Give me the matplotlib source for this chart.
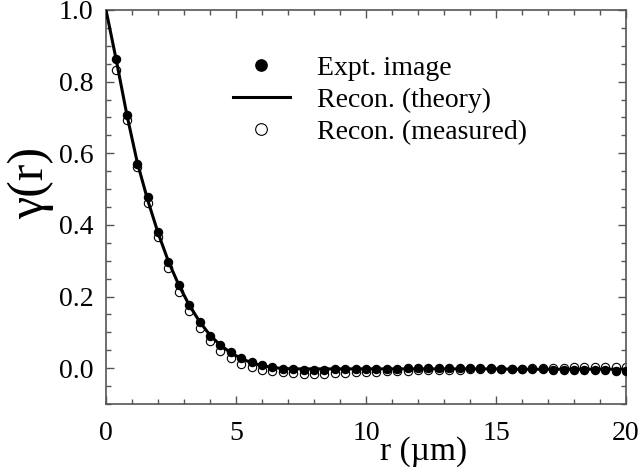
import numpy as np
import matplotlib
matplotlib.use('Agg')
import matplotlib.pyplot as plt
from matplotlib.ticker import MultipleLocator, FormatStrFormatter

# sample radii (um) for the two point series
r_pts = [0.4 * k for k in range(1, 51)]

# experimental image autocorrelation
gamma_expt = [0.862, 0.707, 0.570, 0.477, 0.379, 0.297, 0.231, 0.176, 0.129, 0.091,
              0.064, 0.044, 0.028, 0.017, 0.008, 0.002, -0.002, -0.003, -0.004, -0.004,
              -0.004, -0.003, -0.003, -0.003, -0.002, -0.002, -0.001, -0.001, 0.000, 0.000,
              0.001, 0.001, 0.001, 0.001, 0.001, 0.000, 0.000, -0.001, -0.001, -0.002,
              -0.002, -0.003, -0.004, -0.004, -0.005, -0.005, -0.006, -0.006, -0.007, -0.008]

# reconstruction using the measured two-point function
gamma_meas = [0.832, 0.692, 0.563, 0.462, 0.365, 0.281, 0.213, 0.159, 0.113, 0.076,
              0.048, 0.029, 0.012, 0.003, -0.004, -0.009, -0.012, -0.014, -0.015, -0.015,
              -0.015, -0.014, -0.013, -0.012, -0.011, -0.010, -0.009, -0.008, -0.007, -0.006,
              -0.005, -0.005, -0.004, -0.004, -0.003, -0.003, -0.002, -0.002, -0.001, -0.001,
              0.000, 0.000, 0.001, 0.001, 0.002, 0.002, 0.002, 0.002, 0.002, 0.002]

# reconstruction from theory (starts at r = 0)
r_line = [0.0] + r_pts
gamma_theory = [1.000, 0.858, 0.708, 0.575, 0.470, 0.378, 0.298, 0.232, 0.176, 0.130, 0.092,
                0.064, 0.043, 0.027, 0.015, 0.007, 0.002, -0.001, -0.002, -0.002, -0.002,
                -0.002, -0.002, -0.002, -0.002, -0.002, -0.002, -0.002, -0.002, -0.002, -0.002,
                -0.002, -0.002, -0.002, -0.002, -0.002, -0.002, -0.002, -0.002, -0.003, -0.003,
                -0.003, -0.003, -0.003, -0.003, -0.003, -0.003, -0.003, -0.003, -0.003, -0.003]

plt.rcParams['font.family'] = ['Liberation Serif', 'DejaVu Serif']

fig = plt.figure(figsize=(6.41, 4.75), dpi=100)
ax = fig.add_axes([0.1654, 0.1495, 0.8112, 0.8295])

ax.plot(r_pts, gamma_meas, 'o', mfc='white', mec='black', mew=0.8, ms=6,
        label='Recon. (measured)', zorder=2)
ax.plot(r_pts, gamma_expt, 'o', color='black', ms=5.8, label='Expt. image', zorder=3)
ax.plot(r_line, gamma_theory, '-', color='black', lw=2.2, label='Recon. (theory)', zorder=4)

ax.set_xlim(0, 20)
ax.set_ylim(-0.1, 1.0)
ax.xaxis.set_major_locator(MultipleLocator(5))
ax.xaxis.set_minor_locator(MultipleLocator(1))
ax.yaxis.set_major_locator(MultipleLocator(0.2))
ax.yaxis.set_minor_locator(MultipleLocator(0.05))
ax.yaxis.set_major_formatter(FormatStrFormatter('%.1f'))

for s in ax.spines.values():
    s.set_color('#555555')
    s.set_linewidth(1.2)
ax.tick_params(which='both', direction='in', top=True, right=True, colors='#555555',
               labelcolor='black', labelsize=20)
ax.tick_params(which='major', length=6, width=1)
ax.tick_params(which='minor', length=3.5, width=1)
ax.tick_params(axis='x', pad=12)
ax.tick_params(axis='y', pad=9)

ax.set_xlabel('r (\u00b5m)', fontsize=24)
ax.xaxis.set_label_coords(0.61, -0.083)
ax.set_ylabel('\u03b3(r)', fontsize=36)
ax.yaxis.set_label_coords(-0.1, 0.56)

h, l = ax.get_legend_handles_labels()
order = [1, 2, 0]
ax.legend([h[i] for i in order], [l[i] for i in order], loc='upper left',
          bbox_to_anchor=(0.244, 0.885), frameon=False, fontsize=20,
          borderaxespad=0, borderpad=0,
          handlelength=2.05, handletextpad=0.97, labelspacing=0.24, markerscale=1.4)

fig.savefig('out.png', dpi=100)
